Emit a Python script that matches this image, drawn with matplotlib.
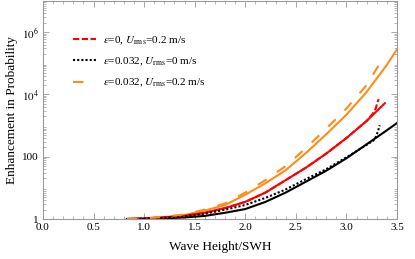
import numpy as np
import matplotlib
matplotlib.use('Agg')
import matplotlib.pyplot as plt
from matplotlib.ticker import FixedLocator, FixedFormatter, LogLocator, MultipleLocator, NullFormatter

plt.rcParams['font.family'] = ['Liberation Serif', 'DejaVu Serif']
plt.rcParams['mathtext.fontset'] = 'stix'

# Values (x = wave height / SWH, log10 of enhancement)
x_orange = [0.83, 1.0, 1.2, 1.4, 1.6, 1.8, 2.0, 2.2, 2.4, 2.6, 2.8, 3.0, 3.2, 3.4, 3.5]
log_orange = [0.0, 0.02, 0.06, 0.13, 0.27, 0.45, 0.78, 1.15, 1.57, 2.12, 2.72, 3.35, 4.08, 4.95, 5.45]

x_red = [0.83, 1.0, 1.2, 1.4, 1.6, 1.8, 2.0, 2.2, 2.4, 2.6, 2.8, 3.0, 3.2, 3.38]
log_red = [0.0, 0.02, 0.05, 0.1, 0.2, 0.35, 0.55, 0.85, 1.25, 1.65, 2.1, 2.6, 3.15, 3.72]

x_black = [0.83, 1.0, 1.2, 1.4, 1.6, 1.8, 2.0, 2.2, 2.4, 2.6, 2.8, 3.0, 3.2, 3.4, 3.5]
log_black = [0.0, 0.0, 0.02, 0.05, 0.1, 0.2, 0.32, 0.55, 0.85, 1.2, 1.55, 1.95, 2.4, 2.85, 3.08]

x_red_d = [0.83, 1.0, 1.2, 1.4, 1.6, 1.8, 2.0, 2.2, 2.4, 2.6, 2.8, 3.0, 3.2, 3.26, 3.29, 3.31, 3.32]
log_red_d = [0.0, 0.02, 0.05, 0.1, 0.2, 0.35, 0.55, 0.85, 1.25, 1.65, 2.1, 2.6, 3.15, 3.38, 3.55, 3.78, 3.85]

x_black_d = [0.83, 1.0, 1.2, 1.4, 1.6, 1.8, 2.0, 2.2, 2.4, 2.6, 2.8, 3.0, 3.2, 3.28, 3.31, 3.33]
log_black_d = [0.0, 0.01, 0.04, 0.09, 0.17, 0.3, 0.45, 0.68, 0.95, 1.28, 1.6, 1.98, 2.38, 2.55, 2.8, 3.01]

x_orange_d = [0.83, 1.0, 1.2, 1.4, 1.6, 1.8, 2.0, 2.2, 2.4, 2.6, 2.8, 3.0, 3.2, 3.34]
log_orange_d = [0.0, 0.02, 0.07, 0.15, 0.3, 0.5, 0.85, 1.25, 1.7, 2.28, 2.9, 3.55, 4.3, 5.05]

labels = [r'$\varepsilon$=0, $U_{\rm rms}$=0.2 m/s',
          r'$\varepsilon$=0.032, $U_{\rm rms}$=0 m/s',
          r'$\varepsilon$=0.032, $U_{\rm rms}$=0.2 m/s']

red = '#ff0000'
orange = '#ff8c1a'

fig = plt.figure(figsize=(4.15, 2.59), dpi=100)
ax = fig.add_axes([0.1036, 0.1544, 0.853, 0.8416])

# solid curves
ax.plot(x_orange, 10 ** np.array(log_orange), color=orange, lw=1.5)
ax.plot(x_red, 10 ** np.array(log_red), color=red, lw=1.5)
ax.plot(x_black, 10 ** np.array(log_black), color='black', lw=1.5)

# dashed / dotted curves (legend entries)
l1, = ax.plot(x_red_d, 10 ** np.array(log_red_d), color=red, lw=1.5, dashes=(3, 1.2))
l2, = ax.plot(x_black_d, 10 ** np.array(log_black_d), color='black', lw=1.5, dashes=(1, 1))
l3, = ax.plot(x_orange_d, 10 ** np.array(log_orange_d), color=orange, lw=1.5, dashes=(5, 6))

ax.set_xlim(0, 3.5)
ax.set_yscale('log')
ax.set_ylim(1, 1e7)

ax.xaxis.set_minor_locator(MultipleLocator(0.1))
ax.set_xticks(np.arange(0, 3.51, 0.5))
ax.set_xticklabels(['0.0', '0.5', '1.0', '1.5', '2.0', '2.5', '3.0', '3.5'])

ax.yaxis.set_major_locator(FixedLocator([1, 1e2, 1e4, 1e6]))
ax.yaxis.set_major_formatter(FixedFormatter(['1', '100', r'$10^4$', r'$10^6$']))
ax.yaxis.set_minor_locator(LogLocator(base=10, subs=np.arange(2, 10), numticks=20))
ax.yaxis.set_minor_formatter(NullFormatter())

for s in ax.spines.values():
    s.set_color('#9a9a9a')
    s.set_linewidth(0.8)
ax.tick_params(which='both', direction='in', top=True, right=True,
               colors='#9a9a9a', labelcolor='black', labelsize=8)
ax.tick_params(axis='x', pad=3)
ax.tick_params(axis='y', pad=3)
ax.tick_params(which='major', length=4, width=0.6)
ax.tick_params(which='minor', length=2, width=0.5)

ax.set_xlabel('Wave Height/SWH', fontsize=9.5, labelpad=6)
ax.set_ylabel('Enhancement in Probability', fontsize=9.5, labelpad=3)

ax.legend([l1, l2, l3], labels, loc='upper left', bbox_to_anchor=(0.056, 0.894),
          frameon=False, fontsize=8, handlelength=2.1, handletextpad=0.6,
          labelspacing=0.8)

fig.savefig('out.png', dpi=100)
